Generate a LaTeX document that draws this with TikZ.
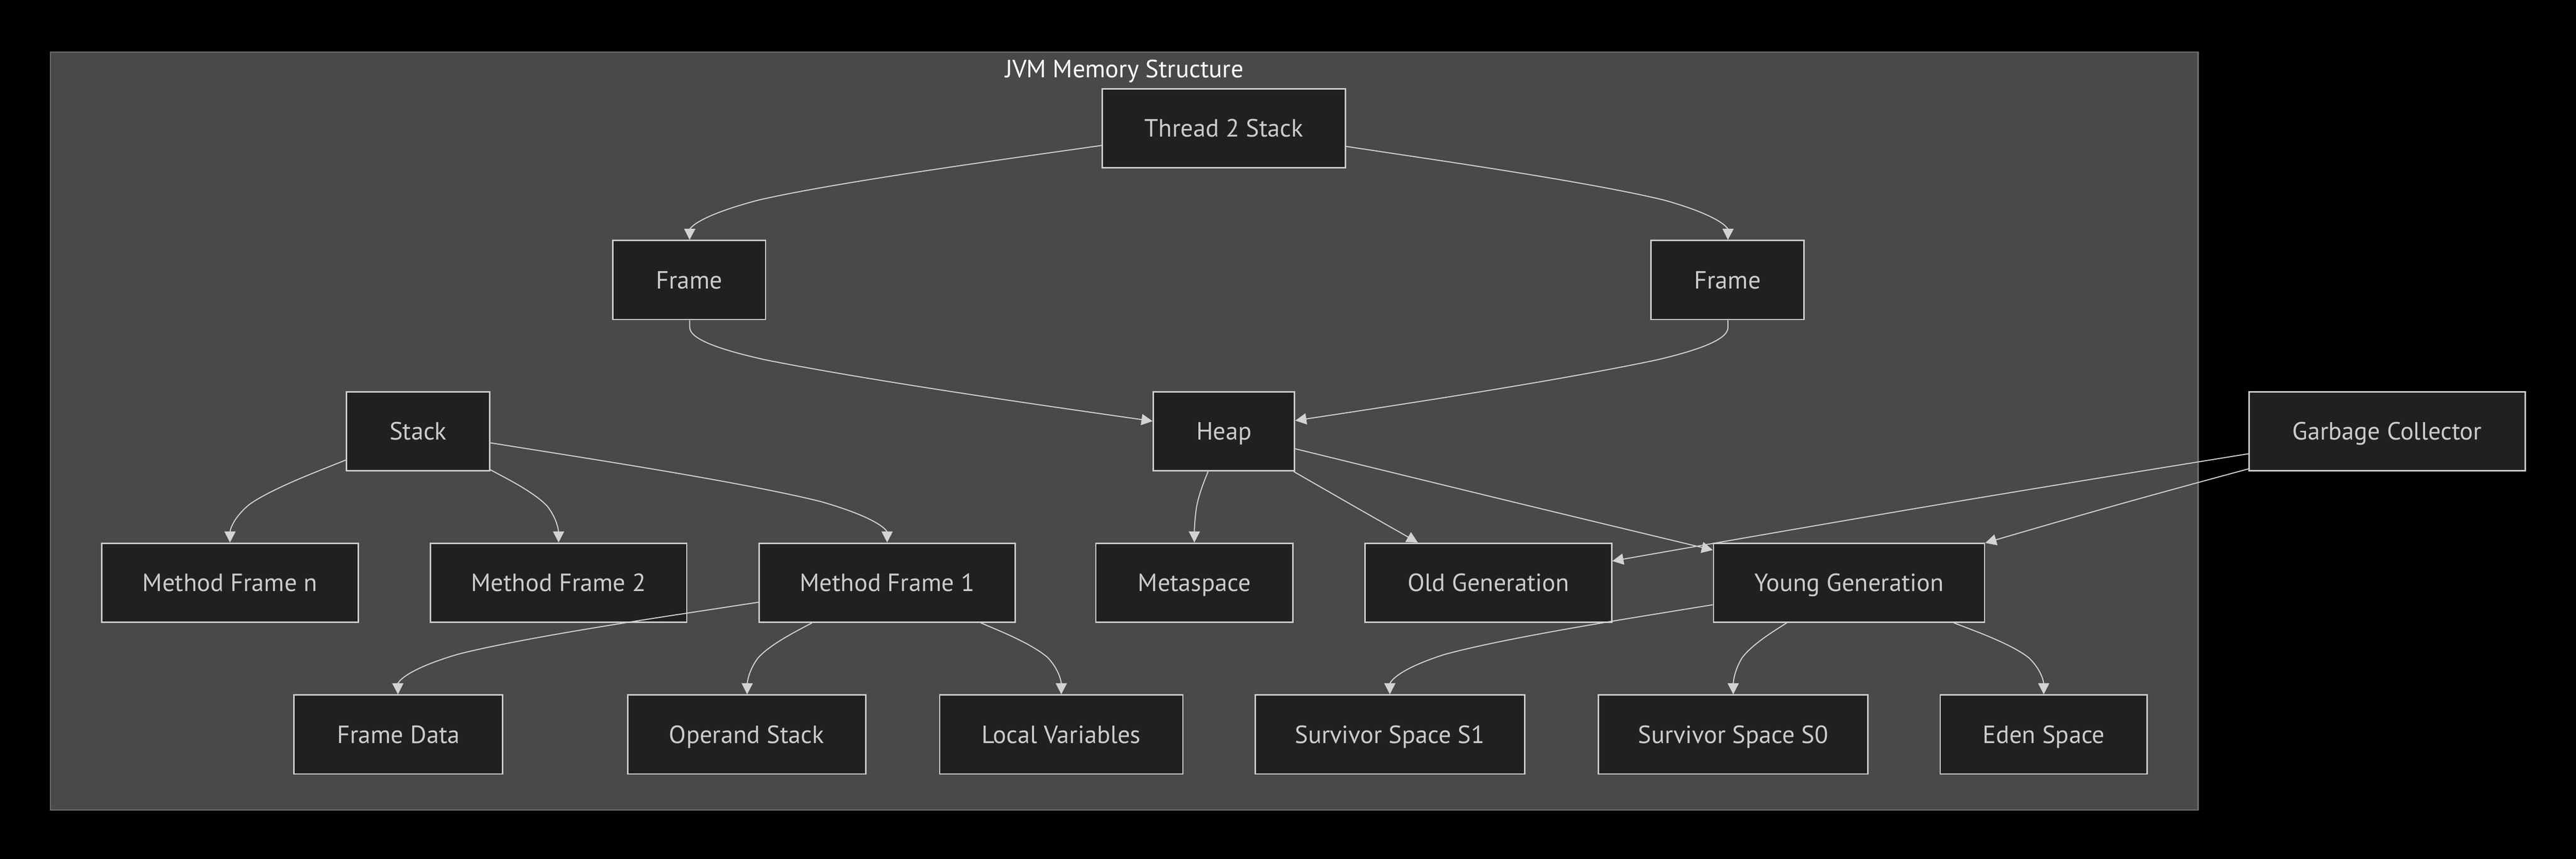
\documentclass[tikz,border=0pt]{standalone}
\usepackage{fontspec}
\setmainfont{PT Sans}
\usetikzlibrary{arrows.meta,calc}
\definecolor{clfill}{HTML}{484A49}
\definecolor{clborder}{HTML}{707070}
\definecolor{nfill}{HTML}{1F2020}
\definecolor{nborder}{HTML}{CCCCCC}
\definecolor{ntext}{HTML}{CCCCCC}
\definecolor{ecol}{HTML}{D3D3D3}
\def\px{0.03383cm}
\newcommand\bedge[3]{%
  \path (#2) -- (#1) coordinate[pos=1] (bS);
  \path (#2) -- (#3) coordinate[pos=1] (bE);
  \path ($(bS)!0.5!(bE)$) coordinate (bM);
  \draw[edge] (bS) -- ($(bS)!1/6!(#2)$) .. controls ($(bS)!1/3!(#2)$) and ($(bS)!2/3!(#2)$) .. ($(bM)!2/3!(#2)$) .. controls ($(#2)!0.4!(bE)$) and ($(#2)!0.75!(bE)$) .. (bE);
}
\begin{document}
\begin{tikzpicture}[x=\px,y=-\px,
  lbl/.style={font=\fontsize{14.6}{18}\selectfont, text height=12.2pt, text depth=2pt},
  box/.style={lbl, draw=nborder, fill=nfill, line width=0.85pt, text=ntext,
    inner sep=0pt, minimum height={48*\px}},
  edge/.style={draw=ecol, line width=0.6pt, -{Triangle[length=6.5pt,width=6.5pt]}},
  cluster/.style={draw=clborder, fill=clfill, line width=0.75pt}]
\fill[black] (0,0) rectangle (1568,522.67);
\draw[cluster] (30.7,31.7) rectangle (1338,493);
\node[lbl, text=white, inner sep=0pt] (title) at (684.4,42) {JVM Memory Structure};

\node[box, minimum width={148*\px}] (t2) at (745,78) {Thread 2 Stack};
\node[box, minimum width={93*\px}] (fl) at (419.5,170.4) {Frame};
\node[box, minimum width={93*\px}] (fr) at (1051.5,170.4) {Frame};
\node[box, minimum width={87*\px}] (stack) at (254.5,262.5) {Stack};
\node[box, minimum width={86*\px}] (heap) at (745,262.5) {Heap};
\node[box, minimum width={168*\px}] (gc) at (1453,262.5) {Garbage Collector};
\node[box, minimum width={156*\px}] (mfn) at (140,354.6) {Method Frame n};
\node[box, minimum width={156*\px}] (mf2) at (340,354.6) {Method Frame 2};
\node[box, minimum width={156*\px}] (mf1) at (540,354.6) {Method Frame 1};
\node[box, minimum width={120*\px}] (meta) at (727,354.6) {Metaspace};
\node[box, minimum width={150*\px}] (old) at (906,354.6) {Old Generation};
\node[box, minimum width={165*\px}] (young) at (1125.5,354.6) {Young Generation};
\node[box, minimum width={127*\px}] (fd) at (242.5,447) {Frame Data};
\node[box, minimum width={145*\px}] (op) at (454.5,447) {Operand Stack};
\node[box, minimum width={148*\px}] (lv) at (646,447) {Local Variables};
\node[box, minimum width={164*\px}] (s1) at (846,447) {Survivor Space S1};
\node[box, minimum width={164*\px}] (s0) at (1055,447) {Survivor Space S0};
\node[box, minimum width={126*\px}] (eden) at (1244,447) {Eden Space};

\bedge{t2}{420,124}{fl}
\bedge{t2}{1052,124}{fr}
\bedge{fl}{420,216}{heap}
\bedge{fr}{1052,216}{heap}
\bedge{stack}{140,308}{mfn}
\bedge{stack}{340,308}{mf2}
\bedge{stack}{540,308}{mf1}
\bedge{heap}{727,308}{meta}
\bedge{heap}{824,308}{old}
\bedge{heap}{931,308}{young}
\bedge{gc}{1172,308}{old}
\bedge{gc}{1285,308}{young}
\bedge{mf1}{242,400}{fd}
\bedge{mf1}{455,400}{op}
\bedge{mf1}{646,400}{lv}
\bedge{young}{846,400}{s1}
\bedge{young}{1055,400}{s0}
\bedge{young}{1244,400}{eden}
\end{tikzpicture}
\end{document}
